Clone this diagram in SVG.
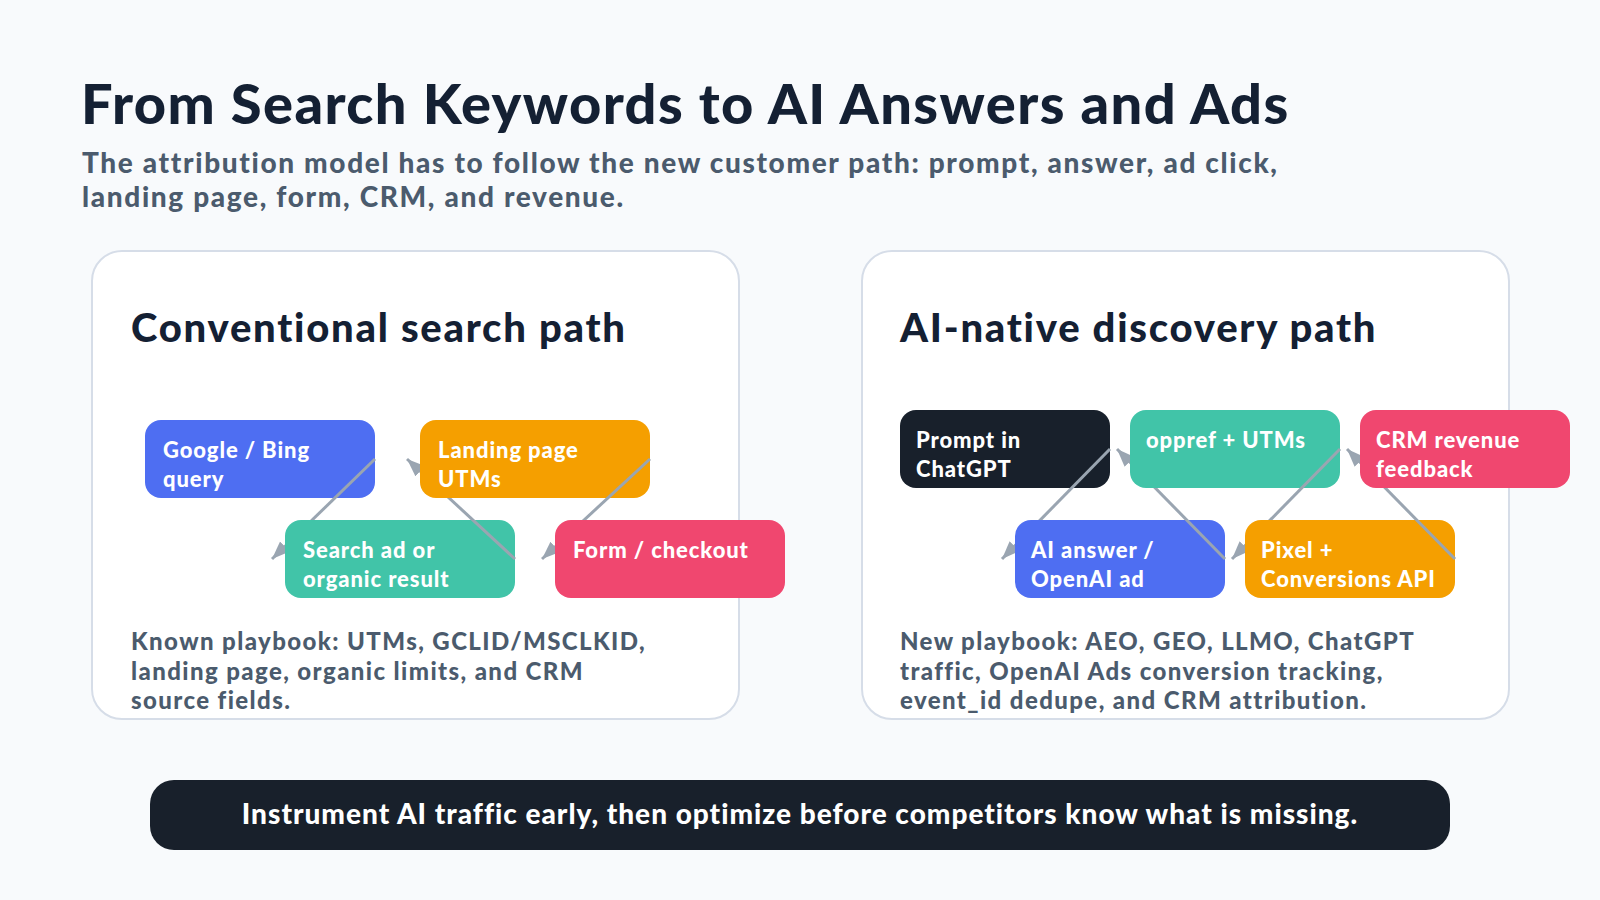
<svg xmlns="http://www.w3.org/2000/svg" width="1600" height="900" viewBox="0 0 1600 900">
<style>
text{font-family:Lato,"Noto Sans","Liberation Sans",sans-serif;font-weight:900}
.title{font-size:56px;fill:#142033;letter-spacing:1.4px}
.sub{font-size:28px;fill:#4b5b6d;letter-spacing:1.65px}
.ptitle{font-size:40px;fill:#142033;letter-spacing:1.75px}
.note{font-size:24px;fill:#4b5b6d;letter-spacing:1.4px}
.nt{font-size:22px;fill:#ffffff;letter-spacing:0.9px}
.panel{fill:#ffffff;stroke:#d6dde8;stroke-width:2}
.conn{stroke:#9aa5b1;stroke-width:3;fill:none;marker-end:url(#arr)}
.foot{font-size:28px;fill:#ffffff;letter-spacing:1px}
</style>
<defs>
<marker id="arr" markerUnits="userSpaceOnUse" markerWidth="20" markerHeight="16" refX="18" refY="7" orient="auto">
<path d="M0,0 L18,7 L0,14 z" fill="#9aa5b1"/>
</marker>
<mask id="m-search" maskUnits="userSpaceOnUse" x="0" y="0" width="1600" height="900"><rect width="1600" height="900" fill="#fff"/><rect x="285" y="520" width="230" height="78" rx="16" fill="#000"/></mask>
<mask id="m-landing" maskUnits="userSpaceOnUse" x="0" y="0" width="1600" height="900"><rect width="1600" height="900" fill="#fff"/><rect x="420" y="420" width="230" height="78" rx="16" fill="#000"/></mask>
<mask id="m-form" maskUnits="userSpaceOnUse" x="0" y="0" width="1600" height="900"><rect width="1600" height="900" fill="#fff"/><rect x="555" y="520" width="230" height="78" rx="16" fill="#000"/></mask>
<mask id="m-ai" maskUnits="userSpaceOnUse" x="0" y="0" width="1600" height="900"><rect width="1600" height="900" fill="#fff"/><rect x="1015" y="520" width="210" height="78" rx="16" fill="#000"/></mask>
<mask id="m-oppref" maskUnits="userSpaceOnUse" x="0" y="0" width="1600" height="900"><rect width="1600" height="900" fill="#fff"/><rect x="1130" y="410" width="210" height="78" rx="16" fill="#000"/></mask>
<mask id="m-pixel" maskUnits="userSpaceOnUse" x="0" y="0" width="1600" height="900"><rect width="1600" height="900" fill="#fff"/><rect x="1245" y="520" width="210" height="78" rx="16" fill="#000"/></mask>
<mask id="m-crm" maskUnits="userSpaceOnUse" x="0" y="0" width="1600" height="900"><rect width="1600" height="900" fill="#fff"/><rect x="1360" y="410" width="210" height="78" rx="16" fill="#000"/></mask>
</defs>
<rect width="1600" height="900" fill="#f8fafc"/>
<text class="title" x="81" y="124">From Search Keywords to AI Answers and Ads</text>
<text class="sub" x="82" y="173">The attribution model has to follow the new customer path: prompt, answer, ad click,</text>
<text class="sub" x="82" y="207">landing page, form, CRM, and revenue.</text>

<g id="panel-left">
<rect class="panel" x="92" y="251" width="647" height="468" rx="30"/>
<text class="ptitle" x="131" y="342">Conventional search path</text>
<text class="note" x="131" y="650">Known playbook: UTMs, GCLID/MSCLKID,</text>
<text class="note" x="131" y="680">landing page, organic limits, and CRM</text>
<text class="note" x="131" y="709">source fields.</text>
</g>
<g id="panel-right">
<rect class="panel" x="862" y="251" width="647" height="468" rx="30"/>
<text class="ptitle" x="900" y="342">AI-native discovery path</text>
<text class="note" x="900" y="650">New playbook: AEO, GEO, LLMO, ChatGPT</text>
<text class="note" x="900" y="680">traffic, OpenAI Ads conversion tracking,</text>
<text class="note" x="900" y="709">event_id dedupe, and CRM attribution.</text>
</g>

<g id="node-google">
<rect x="145" y="420" width="230" height="78" rx="16" fill="#4e6ef2"/>
<text class="nt" x="163" y="458">Google / Bing</text>
<text class="nt" x="163" y="487">query</text>
</g>
<g id="node-search">
<rect x="285" y="520" width="230" height="78" rx="16" fill="#41c4a8"/>
<text class="nt" x="303" y="558">Search ad or</text>
<text class="nt" x="303" y="587">organic result</text>
</g>
<g id="node-landing">
<rect x="420" y="420" width="230" height="78" rx="16" fill="#f59f00"/>
<text class="nt" x="438" y="458">Landing page</text>
<text class="nt" x="438" y="487">UTMs</text>
</g>
<g id="node-form">
<rect x="555" y="520" width="230" height="78" rx="16" fill="#f0476f"/>
<text class="nt" x="573" y="558">Form / checkout</text>
</g>

<g id="node-prompt">
<rect x="900" y="410" width="210" height="78" rx="16" fill="#18202b"/>
<text class="nt" x="916" y="448">Prompt in</text>
<text class="nt" x="916" y="477">ChatGPT</text>
</g>
<g id="node-ai">
<rect x="1015" y="520" width="210" height="78" rx="16" fill="#4e6ef2"/>
<text class="nt" x="1031" y="558">AI answer /</text>
<text class="nt" x="1031" y="587">OpenAI ad</text>
</g>
<g id="node-oppref">
<rect x="1130" y="410" width="210" height="78" rx="16" fill="#41c4a8"/>
<text class="nt" x="1146" y="448">oppref + UTMs</text>
</g>
<g id="node-pixel">
<rect x="1245" y="520" width="210" height="78" rx="16" fill="#f59f00"/>
<text class="nt" x="1261" y="558">Pixel +</text>
<text class="nt" x="1261" y="587">Conversions API</text>
</g>
<g id="node-crm">
<rect x="1360" y="410" width="210" height="78" rx="16" fill="#f0476f"/>
<text class="nt" x="1376" y="448">CRM revenue</text>
<text class="nt" x="1376" y="477">feedback</text>
</g>

<g id="connectors">
<line class="conn" mask="url(#m-search)" x1="375" y1="459" x2="272" y2="559"/>
<line class="conn" mask="url(#m-landing)" x1="515" y1="559" x2="407" y2="459"/>
<line class="conn" mask="url(#m-form)" x1="650" y1="459" x2="542" y2="559"/>
<line class="conn" mask="url(#m-ai)" x1="1110" y1="449" x2="1002" y2="559"/>
<line class="conn" mask="url(#m-oppref)" x1="1225" y1="559" x2="1117" y2="449"/>
<line class="conn" mask="url(#m-pixel)" x1="1340" y1="449" x2="1232" y2="559"/>
<line class="conn" mask="url(#m-crm)" x1="1455" y1="559" x2="1347" y2="449"/>
</g>

<g id="footer">
<rect x="150" y="780" width="1300" height="70" rx="24" fill="#18202b"/>
<text class="foot" x="800" y="824" text-anchor="middle">Instrument AI traffic early, then optimize before competitors know what is missing.</text>
</g>
</svg>
